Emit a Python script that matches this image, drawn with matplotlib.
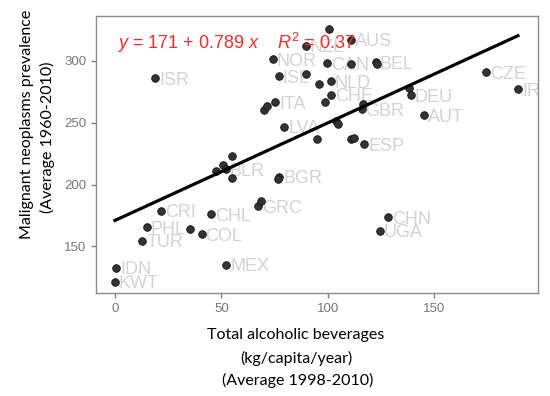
import numpy as np
import matplotlib
matplotlib.use('Agg')
import matplotlib.pyplot as plt

plt.rcParams['font.family'] = ['Liberation Sans', 'DejaVu Sans']
plt.rcParams['mathtext.fontset'] = 'custom'
plt.rcParams['mathtext.rm'] = 'Liberation Sans'
plt.rcParams['mathtext.it'] = 'Liberation Sans:italic'

# data (alcohol kg/capita/year, neoplasm prevalence)
alcohol = [0.0, 0.5, 12.8, 14.9, 21.5, 35.2, 40.7, 45.3, 52.3, 18.8,
           47.5, 50.9, 52.0, 55.1, 54.8, 67.1, 68.6, 77.2, 76.5, 79.5,
           70.2, 71.3, 75.2, 76.9, 74.2, 89.6, 100.7, 111.0, 99.8, 111.0,
           122.5, 123.0, 89.8, 95.7, 101.4, 101.4, 98.8, 95.1, 104.0, 104.9,
           116.4, 115.9, 110.9, 112.5, 117.3, 138.3, 139.0, 145.4, 174.3, 189.4,
           128.3, 124.5]
prevalence = [121.4, 132.8, 154.4, 165.7, 178.9, 164.1, 160.0, 176.0, 135.0, 286.0,
              211.2, 215.9, 212.4, 223.1, 205.6, 182.7, 187.0, 206.4, 204.5, 246.8,
              260.1, 263.8, 266.6, 287.6, 301.4, 312.4, 325.9, 317.0, 298.0, 297.3,
              299.0, 297.8, 289.5, 281.1, 283.8, 272.5, 267.1, 237.2, 251.5, 248.8,
              265.0, 260.9, 236.7, 237.7, 232.8, 277.9, 272.2, 256.3, 291.1, 277.3,
              173.5, 162.5]
countries = ['KWT', 'IDN', 'TUR', 'PHL', 'CRI', '', 'COL', 'CHL', 'MEX', 'ISR',
             '', '', 'BLR', '', '', 'GRC', '', 'BGR', '', 'LVA',
             '', '', 'ITA', 'ISL', 'NOR', 'NZL', '', 'AUS', 'CAN', '',
             'BEL', '', '', '', 'NLD', 'CHE', '', '', '', '',
             '', 'GBR', '', '', 'ESP', '', 'DEU', 'AUT', 'CZE', 'IRL',
             'CHN', 'UGA']

intercept = 171
slope = 0.789
r_squared = 0.37

fig = plt.figure(figsize=(5.5, 3.96), dpi=100)
ax = fig.add_axes([0.1745, 0.26, 0.8035, 0.6996])

ax.scatter(alcohol, prevalence, s=30, color='#333333', edgecolor='#111111',
           linewidth=0.6, zorder=3)

for x, y, name in zip(alcohol, prevalence, countries):
    if name:
        ax.annotate(name, (x, y), xytext=(4, -2), textcoords='offset pixels',
                    ha='left', va='center', fontsize=13, color='#d3d3d3',
                    zorder=2, annotation_clip=False, clip_on=True)

xfit = np.array([min(alcohol), max(alcohol)])
ax.plot(xfit, intercept + slope * xfit, color='black', linewidth=2.3, zorder=4)

ax.text(1, 314.5, r'$y$ = %d + %.3f $x$    $R^2$ = %.2f' % (intercept, slope, r_squared),
        color='#ff2a2a', fontsize=13, ha='left', va='center', zorder=5)

ax.set_xlim(-8.9, 198.8)
ax.set_ylim(112.3, 336.4)
ax.set_xticks([0, 50, 100, 150])
ax.set_yticks([150, 200, 250, 300])
ax.tick_params(colors='#7f7f7f', labelcolor='#777777', labelsize=9.5,
               length=3.5, width=1)
for sp in ax.spines.values():
    sp.set_color('#8c8c8c')
    sp.set_linewidth(1)

lab = dict(family=['Lato', 'DejaVu Sans'], fontsize=11.5, color='black',
           ha='center', va='center')
fig.text(296 / 550, 1 - 335 / 396, 'Total alcoholic beverages', **lab)
fig.text(296 / 550, 1 - 358 / 396, '(kg/capita/year)', **lab)
fig.text(298 / 550, 1 - 380 / 396, '(Average 1998-2010)', **lab)
fig.text(27 / 550, 1 - 124 / 396, 'Malignant neoplasms prevalence',
         rotation=90, **lab)
fig.text(47 / 550, 1 - 137 / 396, '(Average 1960-2010)', rotation=90, **lab)

fig.savefig('out.png', dpi=100)
